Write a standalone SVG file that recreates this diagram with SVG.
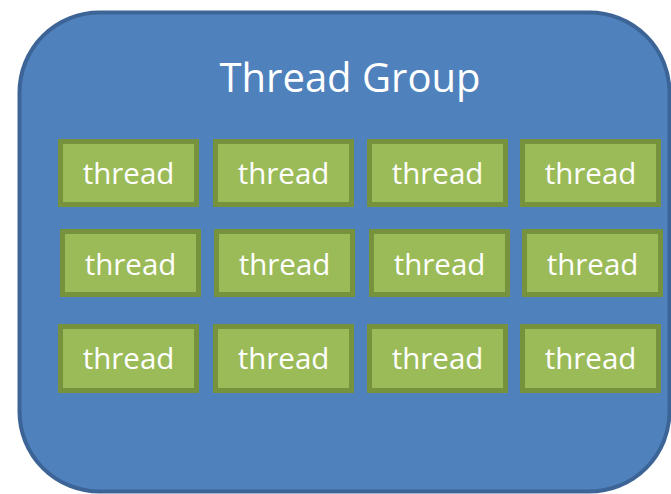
<svg xmlns="http://www.w3.org/2000/svg" width="671" height="494" viewBox="0 0 671 494">
<style>
.grp{fill:#4f81bd;stroke:#3c6496;stroke-width:4}
.box{fill:#9bbb59;stroke:#76923c;stroke-width:5}
.t{font-family:"Open Sans","Noto Sans",sans-serif;fill:#ffffff;text-anchor:middle}
.tl{font-size:29.5px}
.title{font-size:40px}
</style>
<rect width="671" height="494" fill="#ffffff"/>
<g id="group">
<rect class="grp" x="19.5" y="12.5" width="650" height="479" rx="80" ry="80"/>
<text class="t title" x="350" y="92">Thread Group</text>
</g>
<g id="t11"><rect class="box" x="60.5" y="141.5" width="136" height="63"/><text class="t tl" x="128.5" y="184">thread</text></g>
<g id="t12"><rect class="box" x="215.5" y="141.5" width="136" height="63"/><text class="t tl" x="283.5" y="184">thread</text></g>
<g id="t13"><rect class="box" x="369.5" y="141.5" width="136" height="63"/><text class="t tl" x="437.5" y="184">thread</text></g>
<g id="t14"><rect class="box" x="522.5" y="141.5" width="136" height="63"/><text class="t tl" x="590.5" y="184">thread</text></g>
<g id="t21"><rect class="box" x="62.5" y="231.5" width="136" height="63"/><text class="t tl" x="130.5" y="275">thread</text></g>
<g id="t22"><rect class="box" x="216.5" y="231.5" width="136" height="63"/><text class="t tl" x="284.5" y="275">thread</text></g>
<g id="t23"><rect class="box" x="371.5" y="231.5" width="136" height="63"/><text class="t tl" x="439.5" y="275">thread</text></g>
<g id="t24"><rect class="box" x="524.5" y="231.5" width="136" height="63"/><text class="t tl" x="592.5" y="275">thread</text></g>
<g id="t31"><rect class="box" x="60.5" y="326.5" width="136" height="64"/><text class="t tl" x="128.5" y="369">thread</text></g>
<g id="t32"><rect class="box" x="215.5" y="326.5" width="136" height="64"/><text class="t tl" x="283.5" y="369">thread</text></g>
<g id="t33"><rect class="box" x="369.5" y="326.5" width="136" height="64"/><text class="t tl" x="437.5" y="369">thread</text></g>
<g id="t34"><rect class="box" x="522.5" y="326.5" width="136" height="64"/><text class="t tl" x="590.5" y="369">thread</text></g>
<g id="connectors"></g>
</svg>
